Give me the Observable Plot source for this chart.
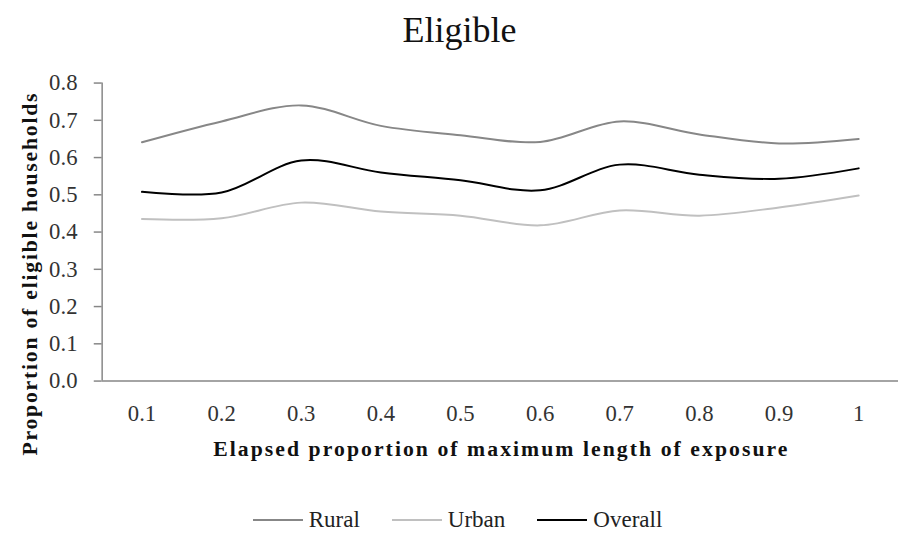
<!DOCTYPE html>
<html>
<head>
<meta charset="utf-8">
<script src="https://cdn.jsdelivr.net/npm/d3@7"></script>
<script src="https://cdn.jsdelivr.net/npm/@observablehq/plot@0.6"></script>
<style>
  html, body { margin: 0; padding: 0; background: #fff; }
  body { width: 899px; height: 535px; overflow: hidden; position: relative; font-family: "Liberation Serif", "DejaVu Serif", serif; color: #222; }
  #title { position: absolute; top: 12px; left: 10px; width: 899px; text-align: center; font-size: 36px; line-height: 1; color: #111; }
  #chart { position: absolute; top: 50px; left: 0; }
  #legend { position: absolute; top: 508px; left: 8px; width: 899px; display: flex; justify-content: center; align-items: center; font-size: 23px; line-height: 24px; color: #222; }
  .item { display: flex; align-items: center; margin: 0 16px; }
  .swatch { width: 50px; height: 0; border-top: 2px solid; margin-right: 6px; }
</style>
</head>
<body>
<div id="title">Eligible</div>
<div id="chart"></div>
<div id="legend"></div>
<script>
// ---- data ----
const xValues = [0.1, 0.2, 0.3, 0.4, 0.5, 0.6, 0.7, 0.8, 0.9, 1.0];
const xLabels = ["0.1", "0.2", "0.3", "0.4", "0.5", "0.6", "0.7", "0.8", "0.9", "1"];
const rural   = [0.641, 0.697, 0.740, 0.685, 0.660, 0.642, 0.697, 0.662, 0.638, 0.650];
const urban   = [0.435, 0.437, 0.479, 0.455, 0.444, 0.418, 0.458, 0.444, 0.466, 0.498];
const overall = [0.508, 0.506, 0.592, 0.560, 0.539, 0.512, 0.581, 0.554, 0.543, 0.571];
const yTicks  = [0, 0.1, 0.2, 0.3, 0.4, 0.5, 0.6, 0.7, 0.8];
const seriesNames  = ["Rural", "Urban", "Overall"];
const seriesColors = ["#878787", "#c0c0c0", "#000000"];
const xTitle = "Elapsed proportion of maximum length of exposure";
const yTitle = "Proportion of eligible households";

const seriesValues = [rural, urban, overall];
const rows = seriesNames.flatMap((name, i) =>
  xValues.map((x, j) => ({series: name, x, y: seriesValues[i][j]})));

const axisColor = "#868686";
const plot = Plot.plot({
  width: 911,
  height: 420,
  marginLeft: 103,
  marginRight: 1,
  marginTop: 33,
  marginBottom: 85,
  style: {fontFamily: "Liberation Serif, DejaVu Serif, serif", background: "#fff", overflow: "visible"},
  x: {type: "linear", domain: [0.05, 1.05], axis: null},
  y: {domain: [0, 0.8], axis: null},
  marks: [
    Plot.axisY({ticks: yTicks, tickFormat: d => d.toFixed(1), tickSize: 8, tickPadding: 17,
      stroke: axisColor, fill: "#333", fontSize: 23, label: null, strokeWidth: 1.5}),
    Plot.axisX({ticks: xValues, tickFormat: (d, i) => xLabels[i], tickSize: 0, tickPadding: 24,
      fill: "#333", fontSize: 23, label: null}),
    Plot.ruleY([0], {stroke: axisColor, strokeWidth: 1.5}),
    Plot.ruleX([0.05], {stroke: axisColor, strokeWidth: 1.5}),
    ...seriesNames.map((name, i) =>
      Plot.line(rows.filter(r => r.series === name), {
        x: "x", y: "y", stroke: seriesColors[i], strokeWidth: 2, curve: "catmull-rom"
      })),
    Plot.text([xTitle], {
      frameAnchor: "bottom", textAnchor: "middle", lineAnchor: "bottom", dy: 76, fontSize: 22, fontWeight: "bold", fill: "#111"
    }),
    Plot.text([yTitle], {
      frameAnchor: "left", textAnchor: "middle", rotate: -90, lineAnchor: "middle", dx: -73, dy: 43,
      fontSize: 22, fontWeight: "bold", fill: "#111"
    })
  ]
});
// stretch axis titles to the reference's wider serif extent
d3.select(plot).selectAll("text").each(function () {
  if (this.textContent === xTitle) { this.setAttribute("textLength", 582); this.setAttribute("lengthAdjust", "spacing"); }
  if (this.textContent === yTitle) { this.setAttribute("textLength", 367); this.setAttribute("lengthAdjust", "spacing"); }
});
document.getElementById("chart").appendChild(plot);

const legend = document.getElementById("legend");
seriesNames.forEach((name, i) => {
  const item = document.createElement("div");
  item.className = "item";
  const sw = document.createElement("span");
  sw.className = "swatch";
  sw.style.borderTopColor = seriesColors[i];
  const label = document.createElement("span");
  label.textContent = name;
  item.appendChild(sw);
  item.appendChild(label);
  legend.appendChild(item);
});
</script>
</body>
</html>
